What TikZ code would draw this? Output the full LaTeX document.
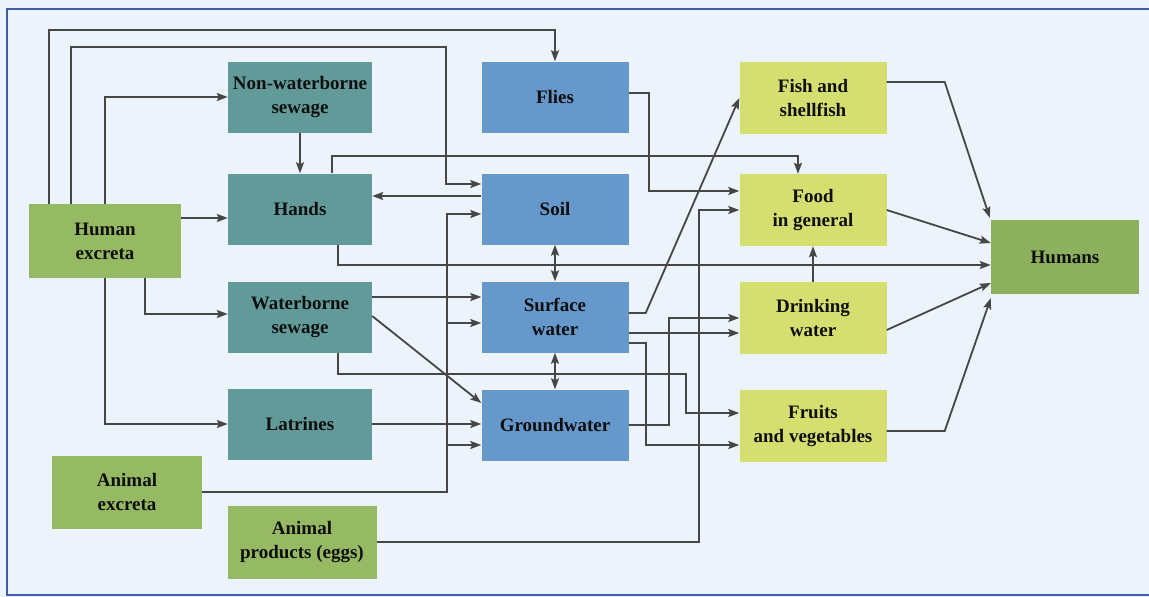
\documentclass[tikz,border=0pt]{standalone}
\usepackage{fontspec}
\setmainfont{Liberation Serif}
\usetikzlibrary{arrows.meta}
\definecolor{bgc}{RGB}{236,243,250}
\definecolor{bordc}{RGB}{70,90,160}
\definecolor{tealc}{RGB}{98,154,153}
\definecolor{bluec}{RGB}{102,152,204}
\definecolor{yelc}{RGB}{213,223,112}
\definecolor{grnc}{RGB}{150,185,100}
\definecolor{humc}{RGB}{140,176,94}
\definecolor{linec}{RGB}{70,70,70}
\definecolor{txtc}{RGB}{15,15,15}
\begin{document}
\begin{tikzpicture}[x=1pt,y=-1pt,
  box/.style={minimum width=146pt, minimum height=72pt, inner sep=0pt, align=center,
    font=\fontsize{19}{24}\selectfont\bfseries, text=txtc},
  tealbox/.style={box, fill=tealc, minimum width=144pt, minimum height=71pt},
  bluebox/.style={box, fill=bluec, minimum width=147pt, minimum height=71pt},
  yelbox/.style={box, fill=yelc, minimum width=147pt, minimum height=72pt},
  grnbox/.style={box, fill=grnc},
  arr/.style={draw=linec, line width=1.8pt, -{Stealth[length=11pt,width=8pt,inset=2pt]}},
  darr/.style={draw=linec, line width=1.8pt, {Stealth[length=11pt,width=8pt,inset=2pt]}-{Stealth[length=11pt,width=8pt,inset=2pt]}}]
\useasboundingbox (0,0) rectangle (1149,597);
\fill[bgc] (0,0) rectangle (1149,597);
\draw[bordc, line width=2pt] (1149,9) -- (7,9) -- (7,595) -- (1149,595);

% nodes
\node[grnbox, minimum width=152pt, minimum height=74pt] (he) at (105,241) {Human\\excreta};
\node[tealbox] (nws) at (300,97) {Non-waterborne\\sewage};
\node[tealbox] (hands) at (300,209) {Hands};
\node[tealbox] (wbs) at (300,317) {Waterborne\\sewage};
\node[tealbox] (lat) at (300,424) {Latrines};
\node[grnbox, minimum width=150pt, minimum height=73pt] (ae) at (127,492) {Animal\\excreta};
\node[grnbox, minimum width=149pt, minimum height=73pt] (ap) at (302,542) {Animal\\products (eggs)};
\node[bluebox] (flies) at (555,97) {Flies};
\node[bluebox] (soil) at (555,209) {Soil};
\node[bluebox] (sw) at (555,317) {Surface\\water};
\node[bluebox] (gw) at (555,425) {Groundwater};
\node[yelbox] (fish) at (813,98) {Fish and\\shellfish};
\node[yelbox] (food) at (813,210) {Food\\in general};
\node[yelbox] (dw) at (813,318) {Drinking\\water};
\node[yelbox] (fv) at (813,426) {Fruits\\and vegetables};
\node[box, fill=humc, minimum width=148pt, minimum height=74pt] (humans) at (1065,257) {Humans};

% connectors from human excreta
\draw[arr] ([xshift=-56pt]he.north) -- ++(0,-174) -| (flies.north);
\draw[arr] ([xshift=-34pt]he.north) -- ++(0,-157) -- ++(375,0) |- ([yshift=25pt]soil.west);
\draw[arr] (he.north) |- (nws.west);
\draw[arr] ([yshift=23pt]he.east) -- ([yshift=23pt]he.east -| hands.west);
\draw[arr] (he.south) |- (lat.west);
\draw[arr] ([xshift=40pt]he.south) |- ([yshift=3pt]wbs.west);

% sewage / hands
\draw[arr] (nws.south) -- (hands.north);
\draw[arr] ([xshift=32pt]hands.north) -- ++(0,-17) -| ([xshift=-15pt]food.north);
\draw[arr] ([xshift=38pt]hands.south) |- ([yshift=-8pt]humans.west);
\draw[arr] ([yshift=13pt]soil.west) -- ([yshift=13pt]soil.west -| hands.east);
\draw[arr] ([yshift=20pt]wbs.east) -- ([yshift=20pt]wbs.east -| sw.west);
\draw[arr] ([yshift=1pt]wbs.east) -- ([yshift=22pt]gw.west);
\draw[arr] ([xshift=38pt]wbs.south) -- ++(0,21) -| ([xshift=-53pt,yshift=13pt]fv.west) -- ([yshift=13pt]fv.west);
\draw[arr] (lat.east) -- (lat.east -| gw.west);

% animal sources
\draw[arr] (ae.east) -- ++(245,0) |- ([yshift=-5pt]soil.west);
\draw[arr] (ae.east) -- ++(245,0) |- ([yshift=-6pt]sw.west);
\draw[arr] (ae.east) -- ++(245,0) |- ([yshift=-20pt]gw.west);
\draw[arr] (ap.east) -- ++(322,0) |- (food.west);

% flies, water
\draw[arr] ([yshift=4pt]flies.east) -- ++(20,0) |- ([yshift=19pt]food.west);
\draw[darr] (soil.south) -- (sw.north);
\draw[darr] (sw.south) -- (gw.north);
\draw[arr] ([yshift=4pt]sw.east) -- ++(17,0) -- (fish.west);
\draw[arr] ([yshift=-16pt]sw.east) -- ([yshift=-16pt]sw.east -| dw.west);
\draw[arr] ([yshift=-26pt]sw.east) -- ++(17,0) |- ([yshift=-19pt]fv.west);
\draw[arr] (gw.east) -- ++(40,0) |- (dw.west);
\draw[arr] (dw.north) -- (food.south);

% to humans
\draw[arr] ([yshift=16pt]fish.east) -- ++(58,0) -- ([xshift=-1pt,yshift=2pt]humans.north west);
\draw[arr] (food.east) -- ([yshift=14pt]humans.west);
\draw[arr] ([yshift=-12pt]dw.east) -- ([yshift=-26pt]humans.west);
\draw[arr] ([yshift=-5pt]fv.east) -- ++(58,0) -- ([yshift=-4pt]humans.south west);
\end{tikzpicture}
\end{document}
